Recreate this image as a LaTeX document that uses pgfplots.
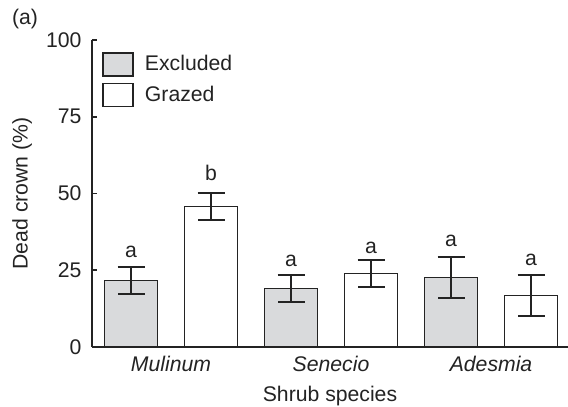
\documentclass[border=0pt]{standalone}
\usepackage{pgfplots}
\pgfplotsset{compat=1.18}
\usepackage{fontspec}
\setmainfont{Liberation Sans}
\definecolor{barg}{RGB}{217,218,220}
\definecolor{ink}{RGB}{35,35,35}
\begin{document}
\fontsize{10.6bp}{12.7bp}\selectfont
\begin{tikzpicture}[font=\fontsize{10.6bp}{12.7bp}\selectfont, text=ink]
\useasboundingbox (-46bp,-30bp) rectangle (238bp,173.5bp);
\begin{axis}[
  scale only axis, width=238bp, height=153.5bp,
  xmin=-0.494, xmax=2.481, ymin=0, ymax=100,
  axis x line=bottom, axis y line=left,
  axis line style={ink, line width=0.8bp, -},
  ybar=13.5bp, bar width=26.5bp,
  xtick={0,1,2}, xticklabels={\textit{Mulinum},\textit{Senecio},\textit{Adesmia}},
  x tick style={draw=none},
  ytick={0,25,50,75,100},
  y tick style={ink, line width=0.8bp},
  tick align=inside, major tick length=2.5bp,
  /pgf/number format/assume math mode=true,
  yticklabel style={xshift=-1.5bp, text=ink},
  xticklabel style={text=ink, yshift=-1bp},
  ylabel={Dead crown (\%)},
  ylabel style={at={(axis description cs:-0.147,0.5)}, anchor=center, rotate=0},
  xlabel={Shrub species},
  xlabel style={at={(axis description cs:0.5,0)}, anchor=base, yshift=-27.35bp},
  legend image code/.code={\draw[#1] (0bp,-5.75bp) rectangle (15bp,5.75bp);},
  legend style={draw=none, fill=none, at={(0,1)}, anchor=north west,
    xshift=5bp, yshift=-5.5bp, inner sep=0pt, row sep=2bp,
    /tikz/every even column/.append style={column sep=0bp},
    nodes={inner xsep=5.5bp}},
  legend cell align=left,
  clip=false,
]
\addplot[fill=barg, draw=ink, line width=0.8bp,
  error bars/.cd, y dir=both, y explicit,
  error mark options={rotate=90, mark size=6.75bp, line width=1bp, ink},
  error bar style={line width=0.8bp, ink}]
  coordinates {(0,21.7) +- (0,4.3) (1,19.0) +- (0,4.5) (2,22.7) +- (0,6.7)};
\addplot[fill=white, draw=ink, line width=0.8bp,
  error bars/.cd, y dir=both, y explicit,
  error mark options={rotate=90, mark size=6.75bp, line width=1bp, ink},
  error bar style={line width=0.8bp, ink}]
  coordinates {(0,45.8) +- (0,4.3) (1,24.0) +- (0,4.5) (2,16.8) +- (0,6.8)};
\legend{Excluded, Grazed}
\node[anchor=base, inner sep=0pt] at (axis cs:-0.25,29.3) {a};
\node[anchor=base, inner sep=0pt] at (axis cs:0.25,54.1) {b};
\node[anchor=base, inner sep=0pt] at (axis cs:0.75,26.2) {a};
\node[anchor=base, inner sep=0pt] at (axis cs:1.25,30.6) {a};
\node[anchor=base, inner sep=0pt] at (axis cs:1.75,32.7) {a};
\node[anchor=base, inner sep=0pt] at (axis cs:2.25,26.5) {a};
\end{axis}
\node at (-33.5bp,164bp) {(a)};
\end{tikzpicture}
\end{document}
